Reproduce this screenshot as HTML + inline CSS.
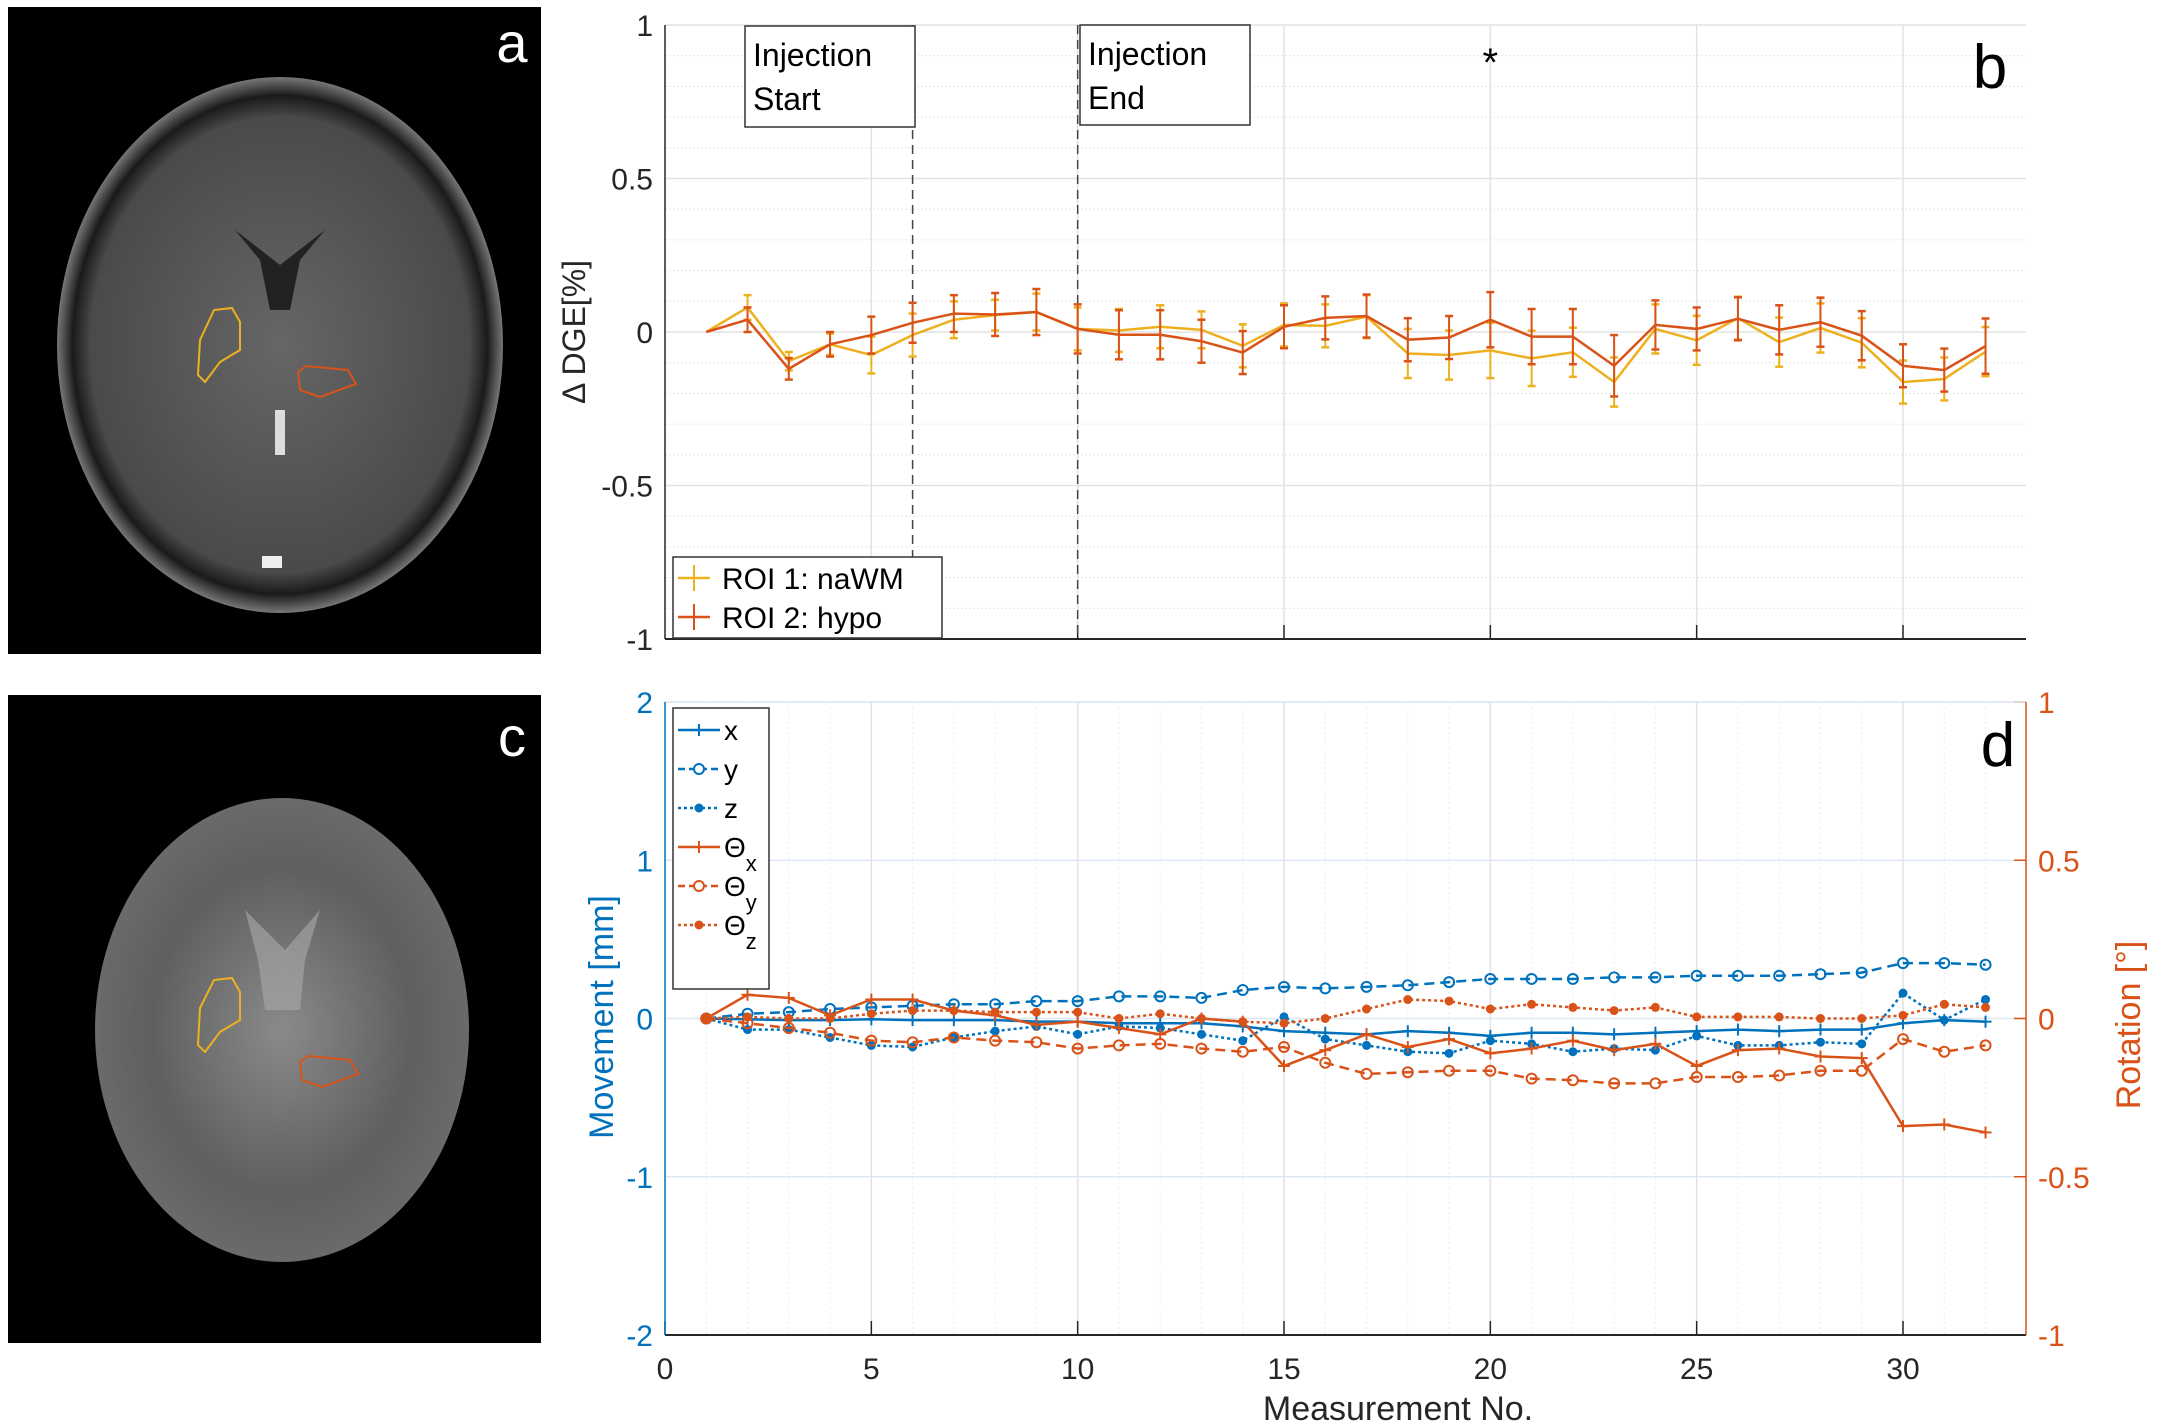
<!DOCTYPE html>
<html><head><meta charset="utf-8"><style>
html,body{margin:0;padding:0;background:#fff;}
svg{display:block;font-family:"Liberation Sans",sans-serif;}
</style></head><body>
<svg id="fig" width="2157" height="1425" viewBox="0 0 2157 1425" xmlns="http://www.w3.org/2000/svg">
<defs>
<radialGradient id="ga" cx="50%" cy="50%" r="50%"><stop offset="0" stop-color="#666"/><stop offset="0.85" stop-color="#4a4a4a"/><stop offset="0.93" stop-color="#1a1a1a"/><stop offset="1" stop-color="#777"/></radialGradient>
<radialGradient id="gc" cx="50%" cy="50%" r="50%"><stop offset="0" stop-color="#8a8a8a"/><stop offset="0.7" stop-color="#5f5f5f"/><stop offset="1" stop-color="#6a6a6a"/></radialGradient>
</defs>
<g>
<rect x="8" y="7" width="533" height="647" fill="#000"/>
<ellipse cx="280" cy="345" rx="223" ry="268" fill="url(#ga)"/>
<path d="M235 230 L280 265 L325 230 L300 260 L290 310 L270 310 L260 260Z" fill="#222"/>
<rect x="275" y="410" width="10" height="45" fill="#ddd"/>
<rect x="262" y="556" width="20" height="12" fill="#eee"/>
<path d="M200 340 L214 310 L232 308 L240 322 L240 350 L220 362 L205 382 L198 375Z" fill="none" stroke="#EDB120" stroke-width="2"/>
<path d="M298 372 L306 366 L348 370 L356 384 L320 397 L300 390Z" fill="none" stroke="#D95319" stroke-width="2"/>
<text x="512" y="62" font-size="56" fill="#fff" text-anchor="middle">a</text>
</g>
<g>
<rect x="8" y="695" width="533" height="648" fill="#000"/>
<ellipse cx="282" cy="1030" rx="187" ry="232" fill="url(#gc)"/>
<path d="M245 910 L285 950 L320 910 L305 960 L300 1010 L265 1010 L258 960Z" fill="#aaa" opacity="0.6"/>
<path d="M200 1008 L214 980 L232 978 L240 992 L240 1020 L220 1032 L205 1052 L198 1045Z" fill="none" stroke="#EDB120" stroke-width="2"/>
<path d="M300 1062 L308 1056 L350 1060 L358 1074 L322 1087 L302 1080Z" fill="none" stroke="#D95319" stroke-width="2"/>
<text x="512" y="756" font-size="56" fill="#fff" text-anchor="middle">c</text>
</g>
<g id="pb"></g>
<g id="pd"></g>
</svg>
<script>
const xTicks = [0,5,10,15,20,25,30];
const meas = [1,2,3,4,5,6,7,8,9,10,11,12,13,14,15,16,17,18,19,20,21,22,23,24,25,26,27,28,29,30,31,32];
const roi1 = [0,0.08,-0.095,-0.04,-0.075,-0.01,0.04,0.055,0.065,0.01,0.005,0.017,0.007,-0.045,0.023,0.02,0.05,-0.07,-0.075,-0.06,-0.086,-0.066,-0.163,0.01,-0.027,0.045,-0.033,0.013,-0.035,-0.163,-0.153,-0.064];
const roi1Err = [0,0.04,0.03,0.035,0.06,0.07,0.06,0.05,0.06,0.07,0.07,0.07,0.06,0.07,0.07,0.07,0.07,0.08,0.08,0.09,0.09,0.08,0.08,0.08,0.08,0.07,0.08,0.08,0.08,0.07,0.07,0.08];
const roi2 = [0,0.04,-0.12,-0.04,-0.01,0.03,0.06,0.057,0.065,0.01,-0.009,-0.009,-0.03,-0.067,0.017,0.046,0.052,-0.025,-0.018,0.04,-0.015,-0.015,-0.11,0.023,0.01,0.043,0.007,0.032,-0.012,-0.11,-0.124,-0.046];
const roi2Err = [0,0.04,0.035,0.04,0.06,0.065,0.06,0.07,0.075,0.08,0.08,0.08,0.07,0.07,0.07,0.07,0.07,0.07,0.07,0.09,0.09,0.09,0.1,0.08,0.07,0.07,0.08,0.08,0.08,0.07,0.07,0.09];
const bTicks = [1,0.5,0,-0.5,-1];
const movX = [0,-0.005,-0.01,-0.01,-0.005,-0.01,-0.01,-0.01,-0.02,-0.02,-0.03,-0.03,-0.03,-0.05,-0.08,-0.09,-0.1,-0.08,-0.09,-0.11,-0.09,-0.09,-0.1,-0.09,-0.08,-0.07,-0.08,-0.07,-0.07,-0.03,-0.01,-0.02];
const movY = [0,0.03,0.04,0.06,0.07,0.08,0.09,0.09,0.11,0.11,0.14,0.14,0.13,0.18,0.2,0.19,0.2,0.21,0.23,0.25,0.25,0.25,0.26,0.26,0.27,0.27,0.27,0.28,0.29,0.35,0.35,0.34];
const movZ = [0,-0.07,-0.07,-0.12,-0.17,-0.18,-0.12,-0.08,-0.05,-0.1,-0.05,-0.06,-0.1,-0.14,0.01,-0.13,-0.17,-0.21,-0.22,-0.14,-0.16,-0.21,-0.19,-0.2,-0.11,-0.17,-0.17,-0.15,-0.16,0.16,-0.01,0.12];
const rotX = [0,0.075,0.065,0.01,0.06,0.06,0.025,0.01,-0.02,-0.01,-0.03,-0.05,0,-0.01,-0.15,-0.1,-0.05,-0.09,-0.065,-0.11,-0.095,-0.07,-0.1,-0.08,-0.15,-0.1,-0.095,-0.12,-0.125,-0.34,-0.335,-0.36];
const rotY = [0,-0.015,-0.03,-0.045,-0.07,-0.075,-0.06,-0.07,-0.075,-0.095,-0.085,-0.08,-0.095,-0.105,-0.09,-0.14,-0.175,-0.17,-0.165,-0.165,-0.19,-0.195,-0.205,-0.205,-0.185,-0.185,-0.18,-0.165,-0.165,-0.065,-0.105,-0.085];
const rotZ = [0,0.005,0,0,0.015,0.025,0.025,0.02,0.02,0.02,0,0.015,0,-0.01,-0.015,0,0.03,0.06,0.055,0.03,0.045,0.035,0.025,0.035,0.005,0.005,0.005,0,0,0.01,0.045,0.035];
const dLeftTicks = [2,1,0,-1,-2];
const dRightTicks = [1,0.5,0,-0.5,-1];

const NS="http://www.w3.org/2000/svg";
const BLUE="#0072BD", ORANGE="#D95319", YEL="#EDB120";
function mk(parent,tag,attrs,text){const e=document.createElementNS(NS,tag);for(const k in attrs)e.setAttribute(k,attrs[k]);if(text!==undefined)e.textContent=text;parent.appendChild(e);return e;}
const X0=665, X1=2026;
const sx=v=>X0+(v-0)*(1903-665)/30;

// ---------- Panel b ----------
const pb=document.getElementById('pb');


const bTop=25,bBot=639;
const sb=v=>bTop+(1-v)/2*(bBot-bTop);
mk(pb,'rect',{x:X0,y:bTop,width:X1-X0,height:bBot-bTop,fill:'#fff'});
for(let v=-0.9;v<0.95;v+=0.1){if(Math.abs(Math.round(v*10)%5)===0)continue;mk(pb,'line',{x1:X0,x2:X1,y1:sb(v),y2:sb(v),stroke:'#e6e6e6','stroke-width':1,'stroke-dasharray':'2,2'});}
bTicks.forEach(t=>{mk(pb,'line',{x1:X0,x2:X1,y1:sb(t),y2:sb(t),stroke:'#e2e2e2','stroke-width':1.5});
 const l=mk(pb,'text',{x:X0-12,y:sb(t)+11,'font-size':30,'text-anchor':'end',fill:'#262626'},String(t));
 });
xTicks.forEach(t=>{if(t===0)return;mk(pb,'line',{x1:sx(t),x2:sx(t),y1:bTop,y2:bBot,stroke:'#e2e2e2','stroke-width':1.5});
 mk(pb,'line',{x1:sx(t),x2:sx(t),y1:bBot,y2:bBot-14,stroke:'#262626','stroke-width':1.5});});
mk(pb,'line',{x1:X0,x2:X1,y1:bBot,y2:bBot,stroke:'#262626','stroke-width':2});
mk(pb,'line',{x1:X0,x2:X0,y1:bTop,y2:bBot,stroke:'#262626','stroke-width':1.5});
[6,10].forEach(m=>{const ln=mk(pb,'line',{x1:sx(m),x2:sx(m),y1:bTop,y2:bBot,stroke:'#444','stroke-width':1.5,'stroke-dasharray':'9,6'});
 });
function series(g,vals,err,color,name){
 const grp=mk(g,'g',{});
 mk(grp,'polyline',{points:meas.map((m,i)=>sx(m)+','+sb(vals[i])).join(' '),fill:'none',stroke:color,'stroke-width':2.5});
 meas.forEach((m,i)=>{if(!err[i])return;const x=sx(m),t=sb(vals[i]+err[i]),b=sb(vals[i]-err[i]);
  mk(grp,'line',{x1:x,x2:x,y1:t,y2:b,stroke:color,'stroke-width':2});
  mk(grp,'line',{x1:x-4,x2:x+4,y1:t,y2:t,stroke:color,'stroke-width':2.5});
  mk(grp,'line',{x1:x-4,x2:x+4,y1:b,y2:b,stroke:color,'stroke-width':2.5});});
}
series(pb,roi1,roi1Err,YEL,'series-roi1-nawm');
series(pb,roi2,roi2Err,ORANGE,'series-roi2-hypo');
function box(g,x,y,w,h,l1,l2,name){const gg=mk(g,'g',{});
 mk(gg,'rect',{x,y,width:w,height:h,fill:'#fff',stroke:'#333','stroke-width':1.5});
 mk(gg,'text',{x:x+8,y:y+40,'font-size':32,fill:'#000'},l1);mk(gg,'text',{x:x+8,y:y+84,'font-size':32,fill:'#000'},l2);}
box(pb,745,26,170,101,'Injection','Start','injection-start-annotation');
box(pb,1080,25,170,100,'Injection','End','injection-end-annotation');
const ast=mk(pb,'text',{x:sx(20),y:76,'font-size':40,'text-anchor':'middle',fill:'#000'},'*');

const lb=mk(pb,'text',{x:1990,y:88,'font-size':62,'text-anchor':'middle',fill:'#000'},'b');

const yl=mk(pb,'text',{x:0,y:0,'font-size':32,'text-anchor':'middle',fill:'#262626',transform:'translate(585,332) rotate(-90)'},'Δ DGE[%]');

const legb=mk(pb,'g',{});
mk(legb,'rect',{x:673,y:557,width:269,height:81,fill:'#fff',stroke:'#333','stroke-width':1.5});
[[YEL,'ROI 1: naWM',578],[ORANGE,'ROI 2: hypo',617]].forEach(([c,t,y])=>{
 const e=mk(legb,'g',{});
 mk(e,'line',{x1:678,x2:710,y1:y,y2:y,stroke:c,'stroke-width':2.5});mk(e,'line',{x1:694,x2:694,y1:y-13,y2:y+13,stroke:c,'stroke-width':2});
 mk(e,'text',{x:722,y:y+11,'font-size':30,fill:'#000'},t);});

// ---------- Panel d ----------
const pd=document.getElementById('pd');


const dTop=702,dBot=1335;
const sl=v=>dTop+(2-v)/4*(dBot-dTop);
const sr=v=>dTop+(1-v)/2*(dBot-dTop);
for(let m=1;m<=32;m++){if(m%5===0)continue;mk(pd,'line',{x1:sx(m),x2:sx(m),y1:dTop,y2:dBot,stroke:'#ececec','stroke-width':1,'stroke-dasharray':'2,3'});}
dLeftTicks.forEach(t=>{mk(pd,'line',{x1:X0,x2:X1,y1:sl(t),y2:sl(t),stroke:'#dde8f3','stroke-width':1.5});
 const l=mk(pd,'text',{x:X0-12,y:sl(t)+11,'font-size':30,'text-anchor':'end',fill:BLUE},String(t));
 });
dRightTicks.forEach(t=>{mk(pd,'line',{x1:X1-12,x2:X1,y1:sr(t),y2:sr(t),stroke:ORANGE,'stroke-width':1.5});
 const l=mk(pd,'text',{x:X1+12,y:sr(t)+11,'font-size':30,'text-anchor':'start',fill:ORANGE},String(t));
 });
xTicks.forEach(t=>{if(t>0)mk(pd,'line',{x1:sx(t),x2:sx(t),y1:dTop,y2:dBot,stroke:'#e2e2e2','stroke-width':1.5});
 mk(pd,'line',{x1:sx(t),x2:sx(t),y1:dBot,y2:dBot-14,stroke:'#262626','stroke-width':1.5});
 const l=mk(pd,'text',{x:sx(t),y:dBot+44,'font-size':30,'text-anchor':'middle',fill:'#262626'},String(t));
 });
mk(pd,'line',{x1:X0,x2:X1,y1:dBot,y2:dBot,stroke:'#262626','stroke-width':2});
mk(pd,'line',{x1:X0,x2:X1,y1:dTop,y2:dTop,stroke:'#dde8f3','stroke-width':1.5});
mk(pd,'line',{x1:X0,x2:X0,y1:dTop,y2:dBot,stroke:BLUE,'stroke-width':1.5});
mk(pd,'line',{x1:X1,x2:X1,y1:dTop,y2:dBot,stroke:ORANGE,'stroke-width':1.5});
function mseries(vals,scale,color,dash,marker,name){
 const grp=mk(pd,'g',{});
 const a={points:meas.map((m,i)=>sx(m)+','+scale(vals[i])).join(' '),fill:'none',stroke:color,'stroke-width':2.5};
 if(dash)a['stroke-dasharray']=dash;mk(grp,'polyline',a);
 meas.forEach((m,i)=>{const x=sx(m),y=scale(vals[i]);
  if(marker==='+'){mk(grp,'line',{x1:x-6,x2:x+6,y1:y,y2:y,stroke:color,'stroke-width':2});mk(grp,'line',{x1:x,x2:x,y1:y-6,y2:y+6,stroke:color,'stroke-width':2});}
  else if(marker==='o')mk(grp,'circle',{cx:x,cy:y,r:5,fill:'none',stroke:color,'stroke-width':2});
  else mk(grp,'circle',{cx:x,cy:y,r:4.5,fill:color});});
}
mseries(movX,sl,BLUE,null,'+','series-x');
mseries(movY,sl,BLUE,'10,6','o','series-y');
mseries(movZ,sl,BLUE,'3,3','.','series-z');
mseries(rotX,sr,ORANGE,null,'+','series-theta-x');
mseries(rotY,sr,ORANGE,'10,6','o','series-theta-y');
mseries(rotZ,sr,ORANGE,'3,3','.','series-theta-z');
const legd=mk(pd,'g',{});
mk(legd,'rect',{x:673,y:708,width:96,height:281,fill:'#fff',stroke:'#333','stroke-width':1.5});
[[BLUE,null,'+','x','',730],[BLUE,'7,4','o','y','',769],[BLUE,'3,3','.','z','',808],[ORANGE,null,'+','Θ','x',847],[ORANGE,'7,4','o','Θ','y',886],[ORANGE,'3,3','.','Θ','z',925]].forEach(([c,d,mkr,t,sub,y])=>{
 const e=mk(legd,'g',{});
 const a={x1:678,x2:720,y1:y,y2:y,stroke:c,'stroke-width':2.5};if(d)a['stroke-dasharray']=d;mk(e,'line',a);
 if(mkr==='+'){mk(e,'line',{x1:693,x2:705,y1:y,y2:y,stroke:c,'stroke-width':2});mk(e,'line',{x1:699,x2:699,y1:y-6,y2:y+6,stroke:c,'stroke-width':2});}
 else if(mkr==='o')mk(e,'circle',{cx:699,cy:y,r:5,fill:'#fff',stroke:c,'stroke-width':2});
 else mk(e,'circle',{cx:699,cy:y,r:4.5,fill:c});
 const tx=mk(e,'text',{x:724,y:y+10,'font-size':28,fill:'#000'},t);
 if(sub)mk(tx,'tspan',{dy:14,'font-size':22},sub);});
const ld=mk(pd,'text',{x:1998,y:766,'font-size':62,'text-anchor':'middle',fill:'#000'},'d');

const yl2=mk(pd,'text',{x:0,y:0,'font-size':34,'text-anchor':'middle',fill:BLUE,transform:'translate(613,1017) rotate(-90)'},'Movement [mm]');

const yr2=mk(pd,'text',{x:0,y:0,'font-size':34,'text-anchor':'middle',fill:ORANGE,transform:'translate(2140,1025) rotate(-90)'},'Rotation [°]');

const xl=mk(pd,'text',{x:1398,y:1420,'font-size':34,'text-anchor':'middle',fill:'#262626'},'Measurement No.');

</script>
</body></html>
